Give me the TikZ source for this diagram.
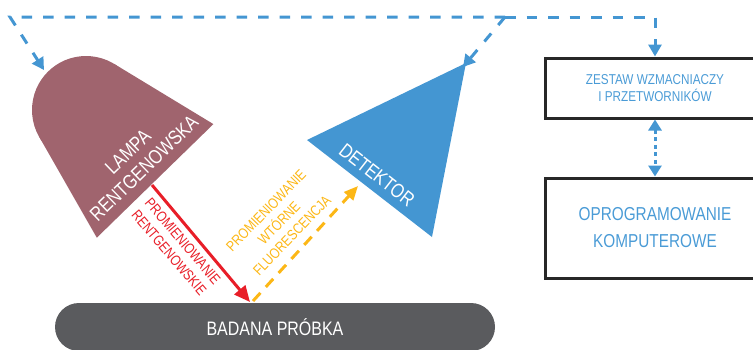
\documentclass[tikz,border=0pt]{standalone}
\usepackage{fontspec}
\setmainfont{Liberation Sans}[FakeStretch=0.82]
\usetikzlibrary{arrows.meta}
\definecolor{lampcol}{RGB}{160,100,110}
\definecolor{detblue}{RGB}{68,150,210}
\definecolor{samplegray}{RGB}{90,91,94}
\definecolor{redc}{RGB}{232,30,40}
\definecolor{yellowc}{RGB}{252,183,22}
\definecolor{boxtext}{RGB}{74,155,214}
\definecolor{boxline}{RGB}{40,40,40}
\tikzset{
  bluedash/.style={draw=detblue, line width=3pt, dash pattern=on 10.5pt off 11pt,
    -{Triangle[length=12pt,width=13pt]}},
  bluedots/.style={draw=detblue, line width=3pt, dash pattern=on 4pt off 3.5pt,
    {Triangle[length=11pt,width=13pt]}-{Triangle[length=11pt,width=13pt]}},
  redarrow/.style={draw=redc, line width=3pt, -{Triangle[length=16pt,width=14pt]}},
  yellowdash/.style={draw=yellowc, line width=3pt, dash pattern=on 11pt off 8pt,
    -{Triangle[length=14pt,width=12pt]}},
  unitbox/.style={draw=boxline, line width=3pt, text=boxtext, align=center, minimum width=220pt},
  whitelabel/.style={text=white, align=center},
}
\begin{document}
\begin{tikzpicture}[x=1pt,y=-1pt]
\useasboundingbox (0,0) rectangle (753,349);
\clip (0,0) rectangle (753,349);
% lamp body
\fill[lampcol] (86,110) circle (54);
\fill[lampcol] (86,110) -- (114,63.8) -- (213.4,124.1) -- (96.8,237.7) -- (39.2,136.8) -- cycle;
\node[whitelabel, rotate=44, font=\fontsize{20}{23}\selectfont] (lamp) at (136,160) {LAMPA\\RENTGENOWSKA};
% detector
\fill[detblue] (307,140) -- (466,63) -- (432,237) -- cycle;
\node[whitelabel, rotate=-38, font=\fontsize{20}{24}\selectfont] (det) at (377,175) {DETEKTOR};
% sample
\node[fill=samplegray, rounded corners=24pt, minimum width=440pt, minimum height=48pt,
  text=white, font=\fontsize{19.5}{23}\selectfont] (sample) at (275,327) {BADANA PRÓBKA};
% boxes
\node[unitbox, minimum height=60pt, font=\fontsize{14.3}{17.7}\selectfont] (amp) at (655,88)
  {ZESTAW WZMACNIACZY\\I PRZETWORNIKÓW};
\node[unitbox, minimum height=100pt, font=\fontsize{18.7}{27}\selectfont] (soft) at (655,228)
  {OPROGRAMOWANIE\\KOMPUTEROWE};
% coordinates
\coordinate (c1) at (10,17);
\coordinate (c2) at (505,17);
\coordinate (c3) at (655,17);
\coordinate (lamptip) at (44,70);
\coordinate (dettip) at (463,67);
\coordinate (face) at (152,185);
\coordinate (hit) at (250,302);
\coordinate (hit2) at (253,301);
\coordinate (fluotip) at (358,186);
% connectors
\draw[bluedash] (c2) -- (c1) -- (lamptip);
\draw[bluedash] (c2) -- (dettip);
\draw[bluedash] (c2) -- (c3) -- (amp.north);
\draw[bluedots] (amp.south) -- (soft.north);
\draw[redarrow] (face) -- (hit);
\draw[yellowdash] (hit2) -- (fluotip);
% labels
\node[text=redc, align=center, rotate=-49.5, font=\fontsize{14.6}{18}\selectfont] (xray) at (176,247)
  {PROMIENIOWANIE\\RENTGENOWSKIE};
\node[text=yellowc, align=center, rotate=46, font=\fontsize{14.6}{18}\selectfont] (fluo) at (279,223)
  {PROMIENIOWANIE\\WTÓRNE\\FLUORESCENCJA};
\end{tikzpicture}
\end{document}
